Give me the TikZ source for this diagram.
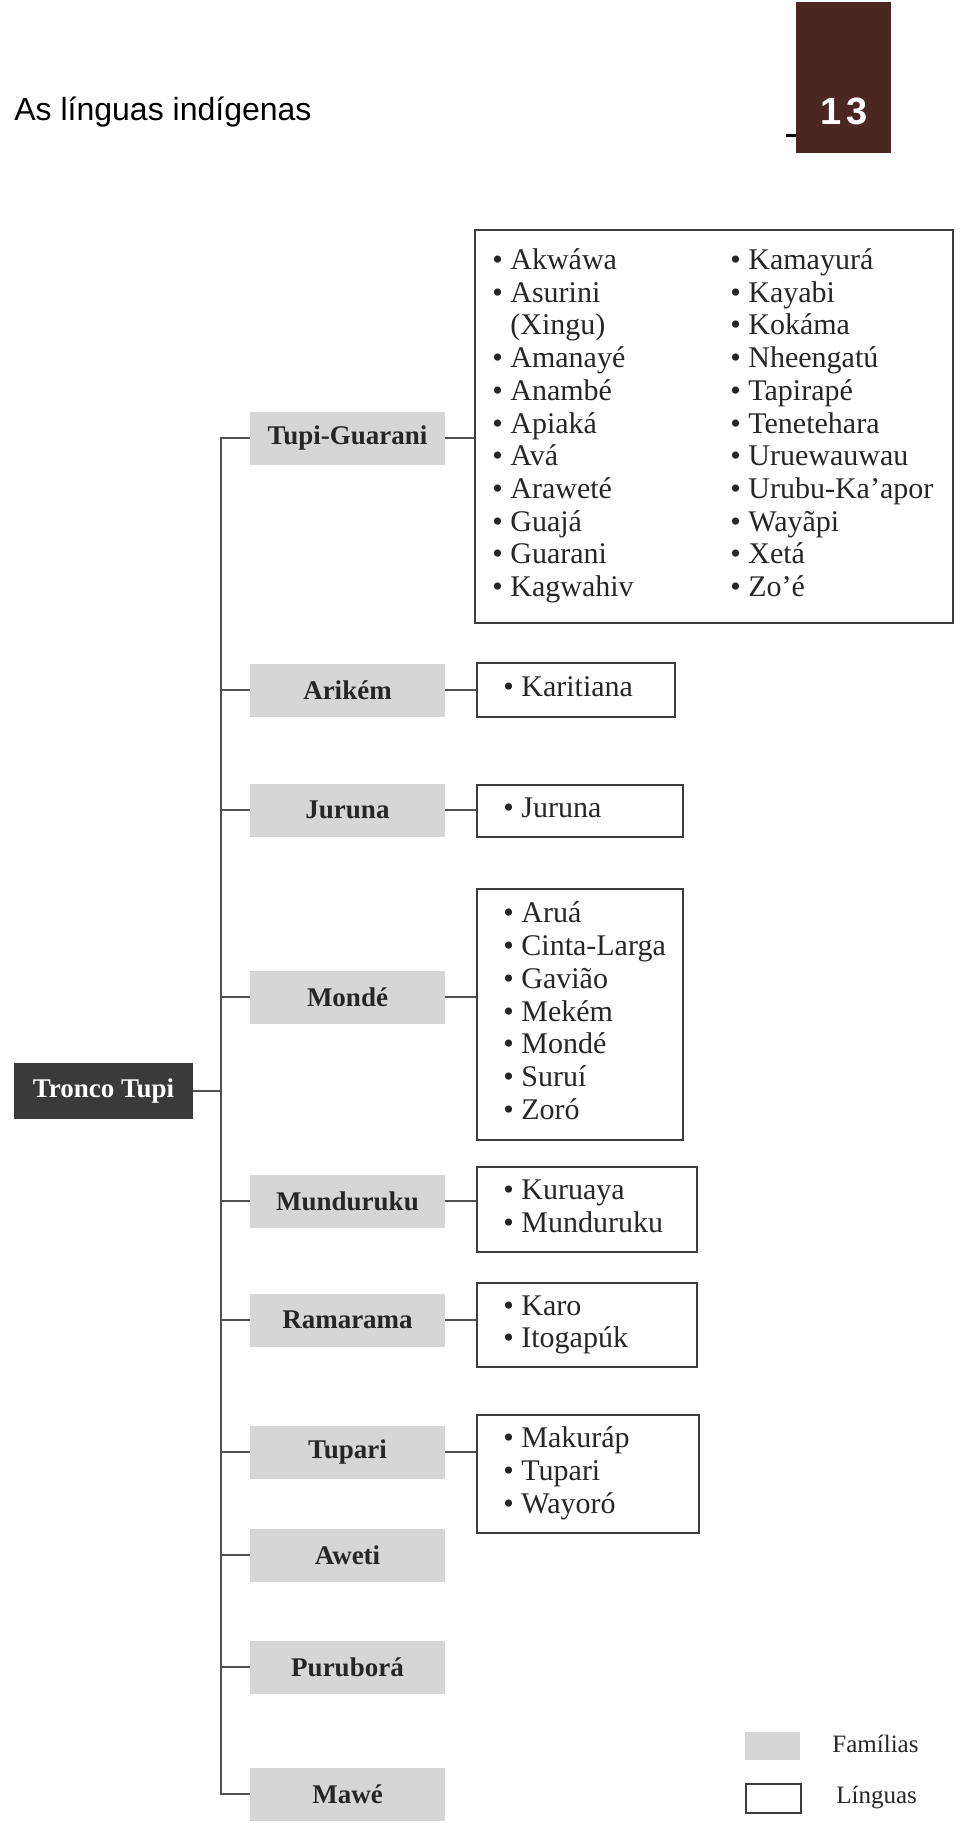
\documentclass[tikz,border=0pt]{standalone}
\usepackage{fontspec}
\setmainfont{Liberation Serif}
\newfontfamily\sansf{Liberation Sans}
\definecolor{brownbox}{RGB}{74,40,33}
\definecolor{famgray}{RGB}{214,214,214}
\definecolor{troncoc}{RGB}{58,58,58}
\definecolor{linec}{RGB}{80,80,80}
\definecolor{boxline}{RGB}{60,60,60}
\tikzset{
  fam/.style={fill=famgray, minimum width=97.5pt, minimum height=26.5pt, inner sep=0pt,
    font=\fontsize{13.5}{16}\selectfont\bfseries, text=black!85},
  langbox/.style={draw=boxline, line width=1.2pt, anchor=west, inner sep=0pt},
  langtext/.style={anchor=west, inner sep=0pt, font=\fontsize{15}{16.35}\selectfont, text=black!85},
  conn/.style={draw=linec, line width=1.3pt},
  legtext/.style={anchor=west, inner sep=0pt, font=\fontsize{12.5}{14}\selectfont, text=black!85}
}
\begin{document}
\begin{tikzpicture}[x=0.5pt,y=-0.5pt]
\useasboundingbox (0,0) rectangle (960,1832);
% header
\node[anchor=base west, font=\sansf\fontsize{16}{19}\selectfont, inner sep=0pt] (title) at (14,120) {As línguas indígenas};
\node[fill=brownbox, minimum width=47.5pt, minimum height=75.5pt, inner sep=0pt, anchor=north west] (pg) at (796,2) {};
\node[text=white, font=\sansf\bfseries\fontsize{19}{21}\selectfont, inner sep=0pt] (pgnum) at (844,111) {1\kern2.5pt3};
\coordinate (dashL) at (786,135);
\draw[line width=1.5pt] (dashL) -- (dashL -| pg.west);
% root
\node[fill=troncoc, text=white, font=\fontsize{13.5}{16}\selectfont\bfseries, minimum width=89.5pt, minimum height=28pt, inner sep=0pt] (root) at (103.5,1091) {Tronco Tupi};
% families
\node[fam] (tg) at (347.5,438) {Tupi-Guarani};
\node[fam] (ar) at (347.5,690) {Arikém};
\node[fam] (ju) at (347.5,810) {Juruna};
\node[fam] (mo) at (347.5,997) {Mondé};
\node[fam] (mu) at (347.5,1201) {Munduruku};
\node[fam] (ra) at (347.5,1320) {Ramarama};
\node[fam] (tu) at (347.5,1452) {Tupari};
\node[fam] (aw) at (347.5,1555) {Aweti};
\node[fam] (pu) at (347.5,1667) {Puruborá};
\node[fam] (ma) at (347.5,1794) {Mawé};
% language boxes
\node[langbox, minimum width=239pt, minimum height=196.5pt] (tgl) at (474,426.5) {};
\node[langbox, minimum width=99pt, minimum height=27pt] (arl) at (476,690) {};
\node[langbox, minimum width=103pt, minimum height=26pt] (jul) at (476,811) {};
\node[langbox, minimum width=103pt, minimum height=125.5pt] (mol) at (476,1014.5) {};
\node[langbox, minimum width=110pt, minimum height=42.5pt] (mul) at (476,1209.5) {};
\node[langbox, minimum width=110pt, minimum height=42pt] (ral) at (476,1325) {};
\node[langbox, minimum width=111pt, minimum height=59pt] (tul) at (476,1474) {};
% language texts
\node[langtext] (tgt) at ([xshift=9pt]tgl.west) {\begin{tabular}{@{}p{119pt}@{}l@{}}
• Akwáwa & • Kamayurá\\
• Asurini & • Kayabi\\
\phantom{• }(Xingu) & • Kokáma\\
• Amanayé & • Nheengatú\\
• Anambé & • Tapirapé\\
• Apiaká & • Tenetehara\\
• Avá & • Uruewauwau\\
• Araweté & • Urubu-Ka’apor\\
• Guajá & • Wayãpi\\
• Guarani & • Xetá\\
• Kagwahiv & • Zo’é
\end{tabular}};
\node[langtext] (art) at ([xshift=13.5pt]arl.west) {\begin{tabular}{@{}l@{}}• Karitiana\end{tabular}};
\node[langtext] (jut) at ([xshift=13.5pt]jul.west) {\begin{tabular}{@{}l@{}}• Juruna\end{tabular}};
\node[langtext] (mot) at ([xshift=13.5pt]mol.west) {\begin{tabular}{@{}l@{}}• Aruá\\ • Cinta-Larga\\ • Gavião\\ • Mekém\\ • Mondé\\ • Suruí\\ • Zoró\end{tabular}};
\node[langtext] (mut) at ([xshift=13.5pt]mul.west) {\begin{tabular}{@{}l@{}}• Kuruaya\\ • Munduruku\end{tabular}};
\node[langtext] (rat) at ([xshift=13.5pt]ral.west) {\begin{tabular}{@{}l@{}}• Karo\\ • Itogapúk\end{tabular}};
\node[langtext] (tut) at ([xshift=13.5pt]tul.west) {\begin{tabular}{@{}l@{}}• Makuráp\\ • Tupari\\ • Wayoró\end{tabular}};
% connectors
\coordinate (tx) at (221,0);
\draw[conn] (tg.west) -- (tg.west -| tx) -- (ma.west -| tx) -- (ma.west);
\foreach \n in {ar,ju,mo,mu,ra,tu,aw,pu} \draw[conn] (\n.west -| tx) -- (\n.west);
\draw[conn] (root.east) -- (root.east -| tx);
\draw[conn] (tg.east) -- (tg.east -| tgl.west);
\draw[conn] (ar.east) -- (ar.east -| arl.west);
\draw[conn] (ju.east) -- (ju.east -| jul.west);
\draw[conn] (mo.east) -- (mo.east -| mol.west);
\draw[conn] (mu.east) -- (mu.east -| mul.west);
\draw[conn] (ra.east) -- (ra.east -| ral.west);
\draw[conn] (tu.east) -- (tu.east -| tul.west);
% legend
\node[fill=famgray, minimum width=27.5pt, minimum height=14pt, inner sep=0pt, anchor=north west] (lgf) at (745,1732) {};
\node[legtext] (lgft) at (832,1744) {Famílias};
\node[draw=boxline, line width=1.2pt, minimum width=27.5pt, minimum height=14.5pt, inner sep=0pt, anchor=north west] (lgl) at (745,1783) {};
\node[legtext] (lglt) at (836,1797) {Línguas};
\end{tikzpicture}
\end{document}
